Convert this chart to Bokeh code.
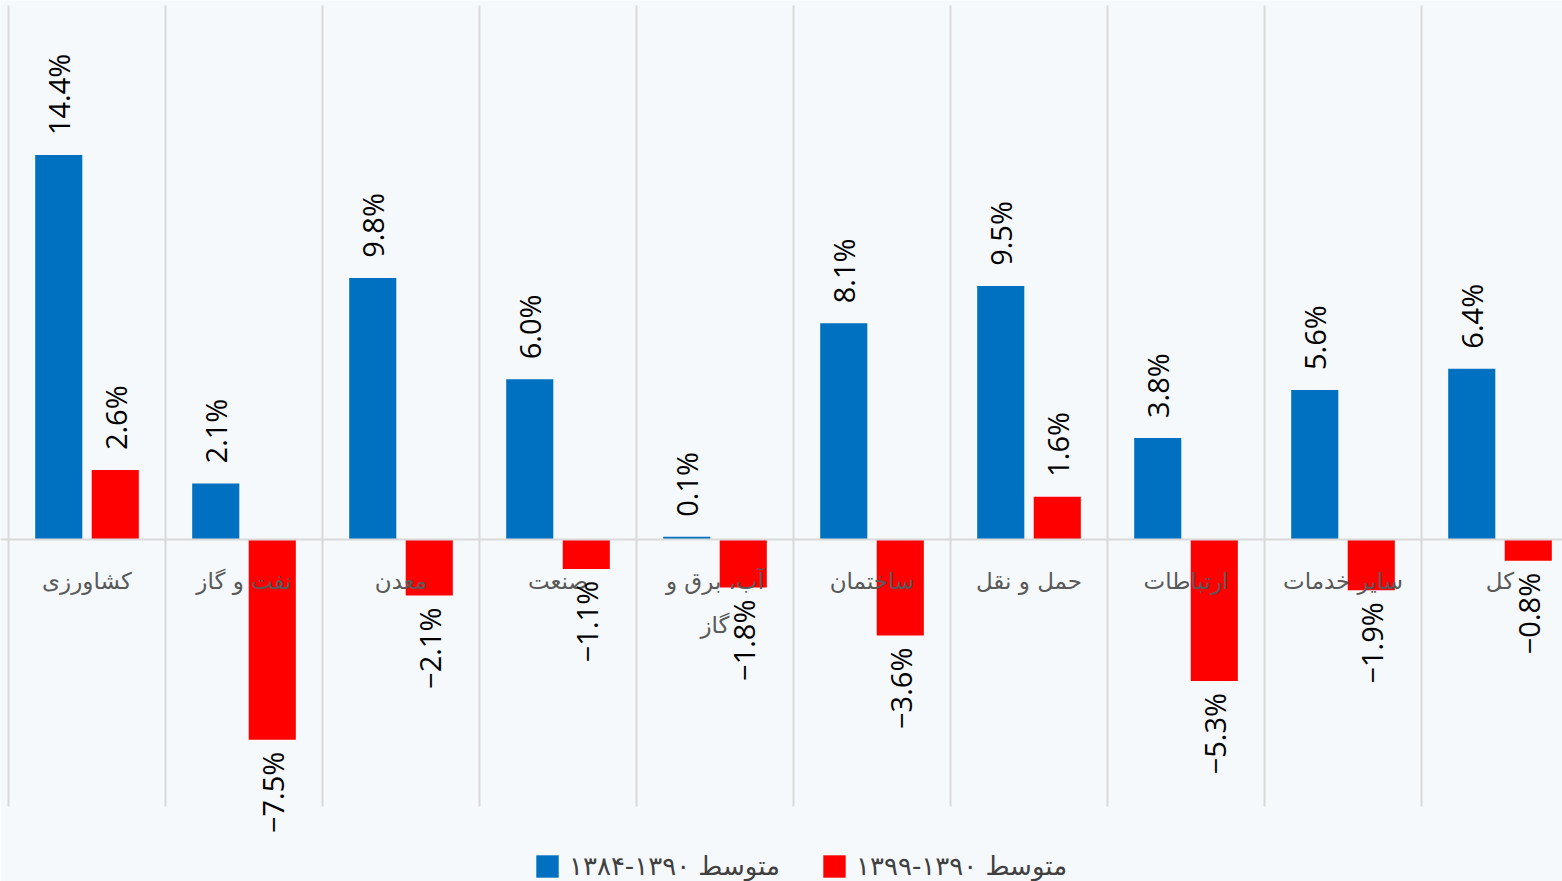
import math
from bokeh.plotting import figure
from bokeh.models import ColumnDataSource, Span, Legend, LegendItem
from bokeh.core.properties import value
from bokeh.embed import file_html
from bokeh.resources import INLINE

categories = ["کشاورزی", "نفت و گاز", "معدن", "صنعت", "آب، برق و\nگاز",
              "ساختمان", "حمل و نقل", "ارتباطات", "سایر خدمات", "کل"]
avg_1384_1390 = [14.4, 2.1, 9.8, 6.0, 0.1, 8.1, 9.5, 3.8, 5.6, 6.4]
avg_1390_1399 = [2.6, -7.5, -2.1, -1.1, -1.8, -3.6, 1.6, -5.3, -1.9, -0.8]
series_names = ["متوسط ۱۳۹۰-۱۳۸۴", "متوسط ۱۳۹۰-۱۳۹۹"]
series_colors = ["#0070C0", "#FF0000"]
y_min, y_max = -10, 20

BG = "#f5f9fc"
W, H = 1562, 881
p = figure(width=W, height=H, output_backend="svg", toolbar_location=None,
           x_range=(-0.051, 9.898), y_range=(-12.81, 20.19),
           min_border_left=0, min_border_right=0, min_border_top=0, min_border_bottom=0,
           background_fill_color=BG, border_fill_color=BG, outline_line_color=None)
p.xaxis.visible = False
p.yaxis.visible = False
p.xgrid.visible = False
p.ygrid.visible = False

n = len(categories)
bounds = list(range(n + 1))
p.segment(x0=bounds, y0=[y_min] * len(bounds), x1=bounds, y1=[y_max] * len(bounds),
          line_color="#d9d9d9", line_width=2)
p.add_layout(Span(location=0, dimension="width", line_color="#d9d9d9", line_width=2))

offsets = [-0.18, 0.18]
renderers = []
for vals, off, col in zip([avg_1384_1390, avg_1390_1399], offsets, series_colors):
    xs = [i + 0.5 + off for i in range(n)]
    src = ColumnDataSource(dict(x=xs, top=vals))
    r = p.vbar(x="x", top="top", bottom=0, width=0.3, source=src,
               fill_color=col, line_color=None)
    renderers.append(r)

# category labels
lx, ly, lt = [], [], []
for i, c in enumerate(categories):
    for j, line in enumerate(c.split("\n")):
        lx.append(i + 0.5)
        ly.append(-1.55 - j * 1.65)
        lt.append(line)
p.text(x=lx, y=ly, text=lt, text_align="center", text_baseline="middle",
       text_font=value("DejaVu Sans"), text_font_size="23px", text_color="#595959")

# value labels
for vals, off in zip([avg_1384_1390, avg_1390_1399], offsets):
    pos = dict(x=[], y=[], t=[])
    neg = dict(x=[], y=[], t=[])
    for i, v in enumerate(vals):
        s = f"{v:.1f}%".replace("-", "\u2212")
        d = pos if v >= 0 else neg
        d["x"].append(i + 0.5 + off)
        d["y"].append(v + 0.75 if v >= 0 else v - 0.45)
        d["t"].append(s)
    for d, al in [(pos, "left"), (neg, "right")]:
        if d["x"]:
            p.text(x=d["x"], y=d["y"], text=d["t"], angle=math.pi / 2,
                   text_align=al, text_baseline="middle",
                   text_font=value("Open Sans"), text_font_size="29px",
                   text_color="#000000")

legend = Legend(items=[LegendItem(label=nm, renderers=[r]) for nm, r in zip(series_names, renderers)],
                orientation="horizontal", location=(533, 0),
                padding=0, margin=0, spacing=40, label_standoff=8,
                glyph_width=28, glyph_height=28,
                label_text_font="DejaVu Sans", label_text_font_size="26px",
                label_text_color="#404040",
                background_fill_alpha=0, border_line_alpha=0)
p.add_layout(legend, "center")

open("out.html", "w").write(file_html(p, INLINE))
